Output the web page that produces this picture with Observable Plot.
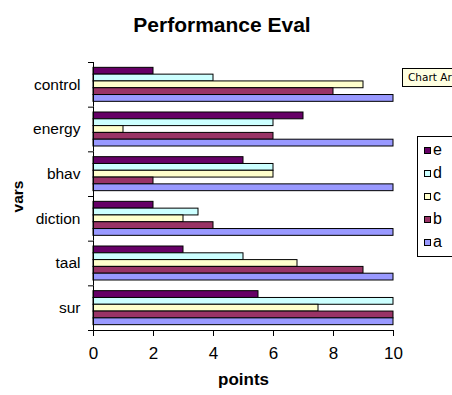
<!DOCTYPE html>
<html><head><meta charset="utf-8">
<script src="https://cdn.jsdelivr.net/npm/d3@7"></script>
<script src="https://cdn.jsdelivr.net/npm/@observablehq/plot@0.6"></script>
<style>
body{margin:0;background:#fff;}
#wrap{position:relative;width:452px;height:395px;overflow:hidden;font-family:"Liberation Sans",Arial,sans-serif;color:#000;}
#wrap svg{position:absolute;left:0;top:0;}
#title{position:absolute;left:0;width:444px;top:14px;line-height:21px;text-align:center;font-weight:bold;font-size:21px;}
#tip{position:absolute;left:402px;top:68px;width:60px;height:19px;background:#FFFFE1;border:1px solid #000;font-family:"DejaVu Sans",sans-serif;font-size:10.5px;line-height:17px;padding-left:5px;box-sizing:border-box;white-space:nowrap;}
#legend{position:absolute;left:417px;top:136px;width:50px;height:121px;border:1px solid #000;box-sizing:border-box;}
.lg-item{position:absolute;left:0;height:16px;line-height:16px;font-size:16px;}
.lg-sw{position:absolute;left:6px;top:5px;width:7px;height:7px;border:1px solid #000;box-sizing:border-box;}
.lg-tx{position:absolute;left:15px;top:0;}
g[aria-label="x-axis label"] text, g[aria-label="fy-axis label"] text{font-weight:bold;}
</style></head>
<body><div id="wrap"><div id="title">Performance Eval</div></div>
<script>
const cats = ["control", "energy", "bhav", "diction", "taal", "sur"];
const series = ["e", "d", "c", "b", "a"];
const valsE = [2, 7, 5, 2, 3, 5.5];
const valsD = [4, 6, 6, 3.5, 5, 10];
const valsC = [9, 1, 6, 3, 6.8, 7.5];
const valsB = [8, 6, 2, 4, 9, 10];
const valsA = [10, 10, 10, 10, 10, 10];
const colors = ["#660066", "#CCFFFF", "#FFFFCC", "#993366", "#9999FF"];
const xTicks = [0, 2, 4, 6, 8, 10];

const bySeries = {e: valsE, d: valsD, c: valsC, b: valsB, a: valsA};
const rows = [];
cats.forEach((cat, i) => series.forEach(s => rows.push({cat, series: s, value: bySeries[s][i]})));

const W = 452, H = 395, MT = 62, MB = 65, ML = 93, MR = 59;
const step = (H - MT - MB) / cats.length;

const chart = Plot.plot({
  width: W, height: H,
  marginTop: MT, marginBottom: MB, marginLeft: ML, marginRight: MR,
  style: {fontFamily: "Liberation Sans, Arial, sans-serif", background: "transparent", color: "black", overflow: "visible"},
  x: {domain: [0, 10]},
  y: {domain: series, paddingInner: 0, paddingOuter: 0.785, round: false, axis: null},
  fy: {domain: cats, padding: 0, round: false},
  color: {domain: series, range: colors},
  marks: [
    Plot.barX(rows, {fy: "cat", y: "series", x: "value", fill: "series", stroke: "black", strokeWidth: 1}),
    Plot.ruleX([0], {stroke: "black"}),
    Plot.frame({anchor: "bottom", facetAnchor: "bottom", stroke: "black"}),
    Plot.axisX({ticks: xTicks, tickSize: 6, tickPadding: 10, fontSize: 17, label: "points", labelArrow: false, labelAnchor: "center", labelOffset: 54}),
    Plot.axisFy({anchor: "left", tickSize: 0, tickPadding: 13, fontSize: 15.5, label: "vars", labelArrow: false, labelAnchor: "center", labelOffset: 82}),
    Plot.axisFy({anchor: "left", tickSize: 5, tickFormat: () => "", dy: -step / 2, label: null}),
    Plot.axisFy({anchor: "left", ticks: [cats[cats.length - 1]], tickSize: 5, tickFormat: () => "", dy: step / 2, label: null})
  ]
});
const wrap = document.getElementById("wrap");
wrap.appendChild(chart);

const tip = document.createElement("div");
tip.id = "tip"; tip.textContent = "Chart Ar";
wrap.appendChild(tip);

const colorScale = chart.scale("color");
const legend = document.createElement("div");
legend.id = "legend";
colorScale.domain.forEach((s, i) => {
  const item = document.createElement("div");
  item.className = "lg-item";
  item.style.top = (5 + 23 * i) + "px";
  const sw = document.createElement("div");
  sw.className = "lg-sw";
  sw.style.background = colorScale.range[i];
  const tx = document.createElement("span");
  tx.className = "lg-tx"; tx.textContent = s;
  item.appendChild(sw); item.appendChild(tx);
  legend.appendChild(item);
});
wrap.appendChild(legend);
</script>
</body></html>
